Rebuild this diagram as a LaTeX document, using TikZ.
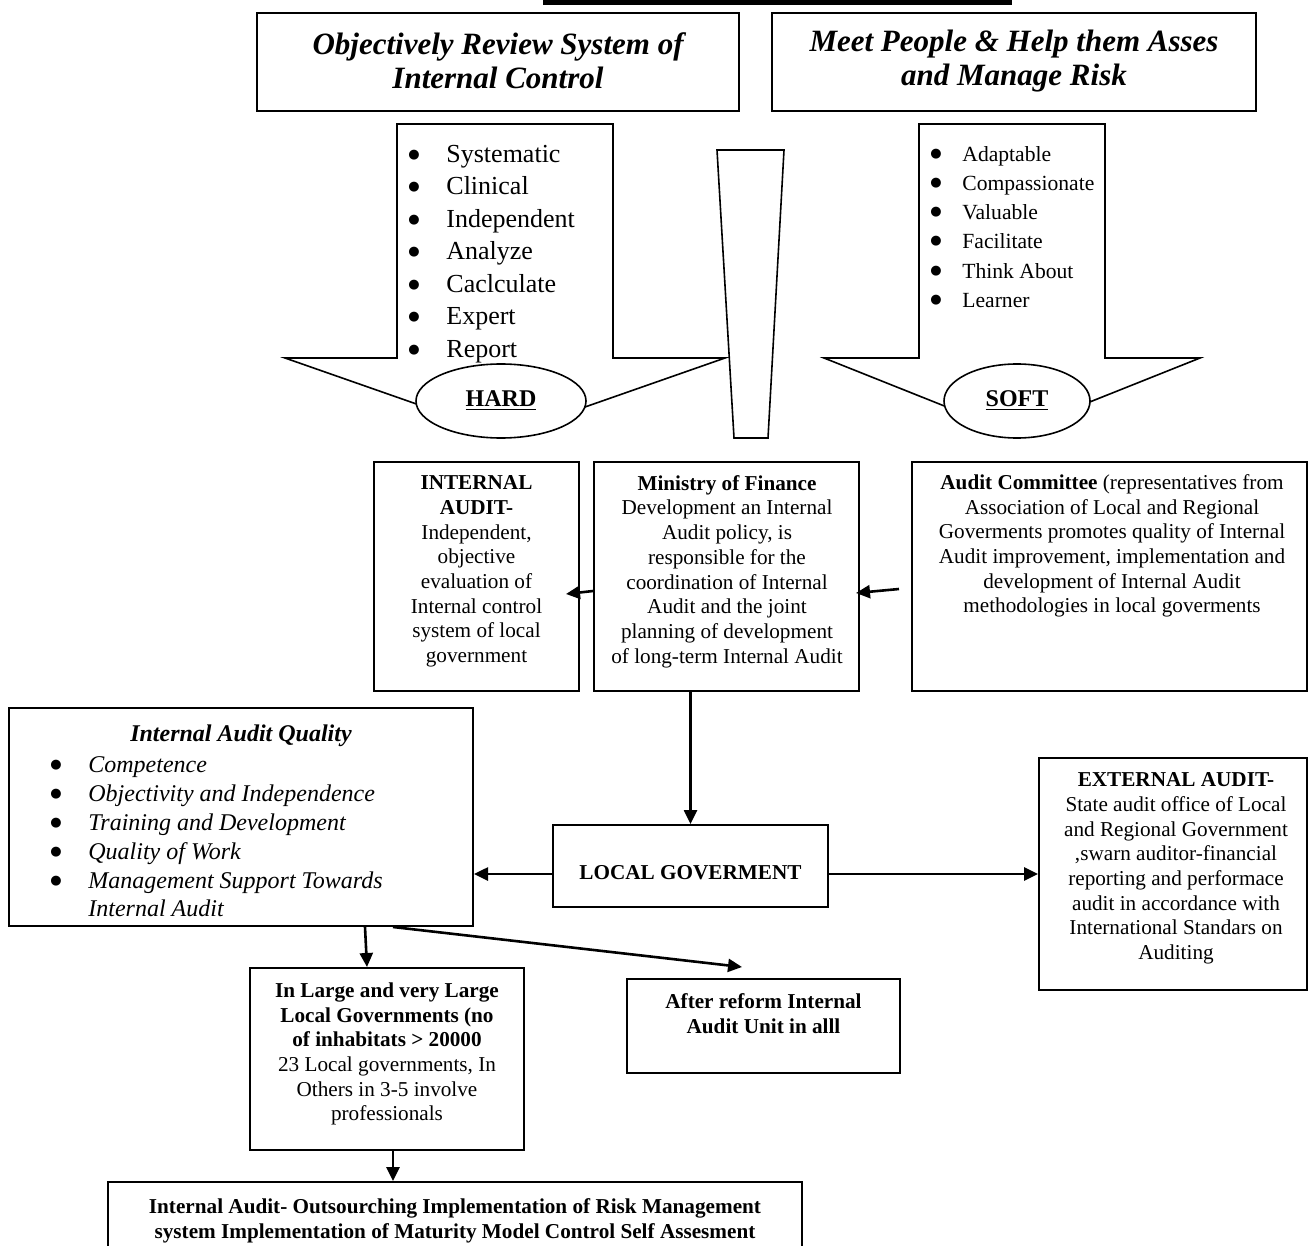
\documentclass[tikz,border=0pt]{standalone}
\usepackage{fontspec}
\setmainfont{Liberation Serif}
\newfontfamily\dejavu{DejaVu Sans}
\usetikzlibrary{arrows.meta,shapes.geometric}

% a round, solid list bullet
\newcommand{\lbul}{{\dejavu\upshape\fontsize{6.5}{6.5}\selectfont\raisebox{2pt}{●}}}

\begin{document}
\begin{tikzpicture}[x=0.5pt,y=-0.5pt,
  box/.style={draw, line width=1pt, fill=white, inner sep=0pt},
  txt/.style={align=center, inner sep=0pt, font=\fontsize{10.6}{12.35}\selectfont},
  txtb/.style={align=center, inner sep=0pt, font=\fontsize{10.6}{12.35}\selectfont\bfseries},
  list/.style={anchor=west, align=left, inner sep=0pt},
  blockarrow/.style={draw, line width=0.8pt, fill=white, line join=miter},
  oval/.style={draw, ellipse, line width=0.8pt, fill=white, inner sep=0pt,
    font=\fontsize{12}{14}\selectfont\bfseries},
  arr/.style={line width=1.3pt, -{Triangle[length=7pt,width=6.5pt]}}
]
\useasboundingbox (0,0) rectangle (1309,1245);
\clip (0,0) rectangle (1309,1245);

% heading rule
\fill (543,0) rectangle (1012,5);

% two headline boxes
\node[box, minimum width=241pt, minimum height=49pt] (review) at (498,62) {};
\node[txt, font=\fontsize{15.5}{17}\selectfont\bfseries\itshape] (reviewtxt) at (498,61)
  {Objectively Review System of\\Internal Control};
\node[box, minimum width=242pt, minimum height=49pt] (meet) at (1014,62) {};
\node[txt, font=\fontsize{15.5}{17}\selectfont\bfseries\itshape] (meettxt) at (1014,61)
  {Meet People \& Help them Asses\\and Manage Risk};

% "hard" block arrow
\draw[blockarrow] (397,124) -- (613,124) -- (613,358) -- (725,358) -- (505,435)
  -- (285,358) -- (397,358) -- cycle;
\node[list, font=\fontsize{13}{16.25}\selectfont] (hardlist) at (408,254)
  {\makebox[19pt][l]{\lbul}Systematic\\
   \makebox[19pt][l]{\lbul}Clinical\\
   \makebox[19pt][l]{\lbul}Independent\\
   \makebox[19pt][l]{\lbul}Analyze\\
   \makebox[19pt][l]{\lbul}Caclculate\\
   \makebox[19pt][l]{\lbul}Expert\\
   \makebox[19pt][l]{\lbul}Report};
\node[oval, minimum width=85pt, minimum height=37pt] (hard) at (501,401) {\underline{HARD}};

% narrow wedge between the two arrows
\draw[blockarrow] (717,150) -- (784,150) -- (768,438) -- (734,438) -- cycle;

% "soft" block arrow
\draw[blockarrow] (919,124) -- (1105,124) -- (1105,358) -- (1200,358) -- (1012,433)
  -- (824,358) -- (919,358) -- cycle;
\node[list, font=\fontsize{10.8}{14.6}\selectfont] (softlist) at (930,227)
  {\makebox[16pt][l]{\lbul}Adaptable\\
   \makebox[16pt][l]{\lbul}Compassionate\\
   \makebox[16pt][l]{\lbul}Valuable\\
   \makebox[16pt][l]{\lbul}Facilitate\\
   \makebox[16pt][l]{\lbul}Think About\\
   \makebox[16pt][l]{\lbul}Learner};
\node[oval, minimum width=73pt, minimum height=37pt] (soft) at (1017,401) {\underline{SOFT}};

% middle row
\node[box, minimum width=102.5pt, minimum height=114.5pt] (ia) at (476.5,576.5) {};
\node[txt] (iatxt) at (476.5,571.5)
  {\textbf{INTERNAL}\\\textbf{AUDIT-}\\Independent,\\objective\\evaluation of\\Internal control\\system of local\\government};

\node[box, minimum width=132.5pt, minimum height=114.5pt] (mof) at (726.5,576.5) {};
\node[txt] (moftxt) at (727,571.5)
  {\textbf{Ministry of Finance}\\Development an Internal\\Audit policy, is\\responsible for the\\coordination of Internal\\Audit and the joint\\planning of development\\of long-term Internal Audit};

\node[box, minimum width=197.5pt, minimum height=114.5pt] (ac) at (1109.5,576.5) {};
\node[txt] (actxt) at (1112,546)
  {\textbf{Audit Committee} (representatives from\\Association of Local and Regional\\Goverments promotes quality of Internal\\Audit improvement, implementation and\\development of Internal Audit\\methodologies in local goverments};

% quality box
\node[box, minimum width=232pt, minimum height=109pt] (iaq) at (241,817) {};
\node[txt, font=\fontsize{12}{14.4}\selectfont\bfseries\itshape] (iaqtitle) at (241,736)
  {Internal Audit Quality};
\node[list, font=\fontsize{12}{14.4}\selectfont\itshape] (iaqlist) at (50,837)
  {\makebox[19pt][l]{\lbul}Competence\\
   \makebox[19pt][l]{\lbul}Objectivity and Independence\\
   \makebox[19pt][l]{\lbul}Training and Development\\
   \makebox[19pt][l]{\lbul}Quality of Work\\
   \makebox[19pt][l]{\lbul}Management Support Towards\\
   \makebox[19pt][l]{}Internal Audit};

% local government and external audit
\node[box, minimum width=137.5pt, minimum height=41pt] (lg) at (690.5,866) {};
\node[txtb] (lgtxt) at (690.5,873) {LOCAL GOVERMENT};

\node[box, minimum width=134pt, minimum height=116pt] (ext) at (1173,874) {};
\node[txt] (exttxt) at (1176,868.5)
  {\textbf{EXTERNAL AUDIT-}\\State audit office of Local\\and Regional Government\\,swarn auditor-financial\\reporting and performace\\audit in accordance with\\International Standars on\\Auditing};

% lower boxes
\node[box, minimum width=137pt, minimum height=91pt] (large) at (387,1059) {};
\node[txt] (largetxt) at (387,1054)
  {\textbf{In Large and very Large}\\\textbf{Local Governments (no}\\\textbf{of inhabitats > 20000}\\23 Local governments, In\\Others in 3-5 involve\\professionals};

\node[box, minimum width=136.5pt, minimum height=47pt] (after) at (763.5,1026) {};
\node[txtb] (aftertxt) at (763.5,1014) {After reform Internal\\Audit Unit in alll};

\node[box, minimum width=347pt, minimum height=44pt] (bottom) at (455,1226) {};
\node[txtb] (bottomtxt) at (455,1220.5)
  {Internal Audit- Outsourching Implementation of Risk Management\\system Implementation of Maturity Model Control Self Assesment};

% connectors
\draw[arr] ([yshift=-7.25pt]mof.west) -- ([xshift=-7pt,yshift=-8.75pt]ia.east);
\draw[arr] ([xshift=-6pt,yshift=-6.25pt]ac.west) -- ([xshift=-2pt,yshift=-8.25pt]mof.east);
\draw[arr] ([xshift=-18pt]mof.south) -- (lg.north);
\draw[arr] ([yshift=-4pt]lg.west) -- ([yshift=-28.5pt]iaq.east);
\draw[arr] ([yshift=-4pt]lg.east) -- (ext.west);
\draw[arr] ([xshift=62pt]iaq.south) -- ([xshift=-10pt]large.north);
\draw[arr] ([xshift=76pt]iaq.south) -- ([xshift=-10.75pt,yshift=5.5pt]after.north);
\draw[arr] ([xshift=3pt]large.south) -- ([xshift=-31pt]bottom.north);
\end{tikzpicture}
\end{document}
